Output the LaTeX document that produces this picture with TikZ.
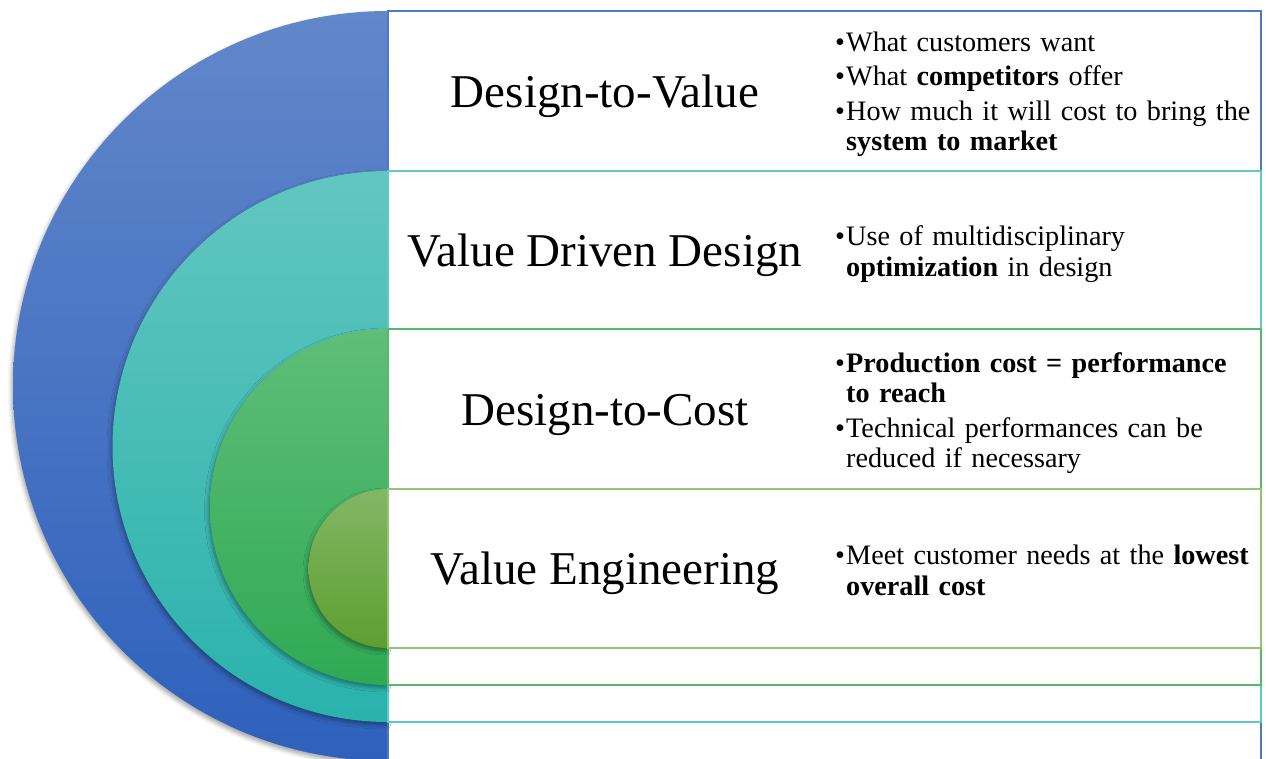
\documentclass[tikz,border=0pt]{standalone}
\usepackage{fontspec}
\setmainfont{Liberation Serif}
\usetikzlibrary{shadows.blur}

\definecolor{blueTop}{HTML}{6287CA}
\definecolor{blueBot}{HTML}{2E61BC}
\definecolor{blueLine}{HTML}{4E79C9}
\definecolor{tealTop}{HTML}{62C6C0}
\definecolor{tealBot}{HTML}{2AB2AC}
\definecolor{tealLine}{HTML}{5CCBC4}
\definecolor{greenTop}{HTML}{5FBE78}
\definecolor{greenBot}{HTML}{2FA954}
\definecolor{greenLine}{HTML}{55B96E}
\definecolor{limeTop}{HTML}{82B765}
\definecolor{limeBot}{HTML}{5E9E30}
\definecolor{limeLine}{HTML}{92C474}

\tikzset{
	disk/.style={top color=#1Top, bottom color=#1Bot,
		blur shadow={shadow xshift=-1.5pt, shadow yshift=-3pt, shadow blur radius=4pt, shadow opacity=35}},
	band/.style={draw=#1Line, line width=1.5pt, fill=white},
	title/.style={font=\fontsize{47}{50}\selectfont, anchor=base, inner sep=0pt},
	notes/.style={font=\fontsize{28.2}{30.5}\selectfont, anchor=west, text width=470pt, align=left, inner sep=0pt},
}
\newcommand{\bul}[1]{\par\hangindent=11pt\hangafter=1\noindent\makebox[11pt][l]{\textbullet}#1\par}

\begin{document}
\begin{tikzpicture}[x=1pt,y=1pt]
	\useasboundingbox (0,0) rectangle (1266,-758);
	\clip (0,0) rectangle (1266,-758);

	% outer ring and its band
	\path[disk=blue] (388,-761) arc[start angle=-90, end angle=-270, radius=375] -- cycle;
	\path[band=blue] (388,-11) rectangle (1261,-761);

	\path[disk=teal] (388,-722) arc[start angle=-90, end angle=-270, radius=275.5] -- cycle;
	\path[band=teal] (388,-171) rectangle (1261,-722);

	\path[disk=green] (388,-685) arc[start angle=-90, end angle=-270, radius=178] -- cycle;
	\path[band=green] (388,-329) rectangle (1261,-685);

	\path[disk=lime] (388,-648) arc[start angle=-90, end angle=-270, radius=79.5] -- cycle;
	\path[band=lime] (388,-489) rectangle (1261,-648);

	% titles
	\node (dtv) [title] at (605,-107) {Design-to-Value};
	\node (vdd) [title] at (605,-266) {Value Driven Design};
	\node (dtc) [title] at (605,-425) {Design-to-Cost};
	\node (ve) [title] at (605,-584) {Value Engineering};

	% bullet lists
	\node (dtvNotes) [notes] at (835,-87) {\setlength{\parskip}{4pt}%
		\bul{What customers want}%
		\bul{What \textbf{competitors} offer}%
		\bul{How much it will cost to bring the\newline\textbf{system to market}}};
	\node (vddNotes) [notes] at (835,-247) {\setlength{\parskip}{4pt}%
		\bul{Use of multidisciplinary\newline\textbf{optimization} in design}};
	\node (dtcNotes) [notes] at (835,-406) {\setlength{\parskip}{4pt}%
		\bul{\textbf{Production cost = performance\newline to reach}}%
		\bul{Technical performances can be\newline reduced if necessary}};
	\node (veNotes) [notes] at (835,-563) {\setlength{\parskip}{4pt}%
		\bul{Meet customer needs at the \textbf{lowest}\newline\textbf{overall cost}}};
\end{tikzpicture}
\end{document}
